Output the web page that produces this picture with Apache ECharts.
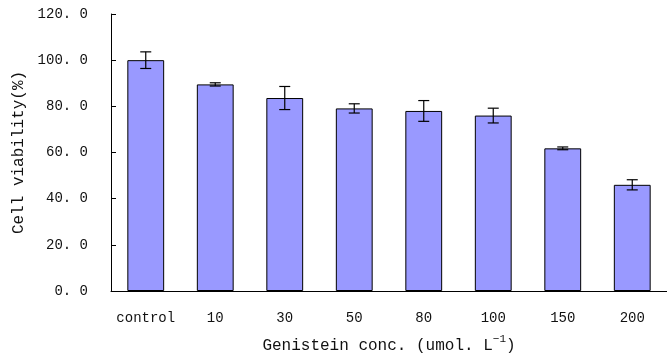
<!DOCTYPE html>
<html>
<head>
<meta charset="utf-8">
<script src="https://cdn.jsdelivr.net/npm/echarts@6/dist/echarts.min.js"></script>
<style>
  html, body { margin: 0; padding: 0; background: #fff; }
  #chart { width: 667px; height: 359px; }
</style>
</head>
<body>
<div id="chart"></div>
<script>
const categories = ['control', '10', '30', '50', '80', '100', '150', '200'];
const viability = [100.0, 89.5, 83.6, 79.1, 78.0, 76.0, 61.8, 46.0];
const errors = [3.6, 0.7, 5.0, 2.0, 4.5, 3.2, 0.6, 2.2];

const chartDom = document.getElementById('chart');
const myChart = echarts.init(chartDom);
const font = '"Liberation Mono", monospace';

const errData = viability.map((v, i) => [i, v - errors[i], v + errors[i]]);

const option = {
    animation: false,
    grid: { left: 111, right: 0, top: 14, bottom: 65 },
    xAxis: {
        type: 'category',
        data: categories,
        axisTick: { show: false },
        axisLine: { lineStyle: { color: '#000', width: 1 } },
        axisLabel: { interval: 0, color: '#111', fontFamily: font, fontSize: 14, margin: 20 },
        name: '{a|Genistein conc. (umol. L}{s|−1}{a|)}',
        nameLocation: 'middle',
        nameGap: 43,
        nameTextStyle: {
            rich: {
                a: { fontFamily: font, fontSize: 16, color: '#111', verticalAlign: 'bottom' },
                s: { fontFamily: font, fontSize: 11, color: '#111', verticalAlign: 'top', padding: [0, 0, 9, 0] }
            }
        }
    },
    yAxis: {
        type: 'value',
        min: 0,
        max: 120,
        interval: 20,
        splitLine: { show: false },
        axisLine: { show: true, lineStyle: { color: '#000', width: 1 } },
        axisTick: { show: true, inside: true, length: 5, lineStyle: { color: '#000' } },
        axisLabel: {
            color: '#111', fontFamily: font, fontSize: 14, margin: 23,
            formatter: v => v.toFixed(1).replace('.', '. ')
        },
        name: 'Cell viability(%)',
        nameLocation: 'middle',
        nameGap: 81,
        nameTextStyle: { fontFamily: font, fontSize: 16, color: '#111' }
    },
    series: [
        {
            type: 'bar',
            data: viability,
            barWidth: '53%',
            itemStyle: { color: '#9999FF', borderColor: '#000', borderWidth: 1 }
        },
        {
            type: 'custom',
            data: errData,
            z: 10,
            renderItem: function (params, api) {
                const x = api.value(0);
                const lo = api.coord([x, api.value(1)]);
                const hi = api.coord([x, api.value(2)]);
                const half = 5.5;
                const style = { stroke: '#000', lineWidth: 1.2 };
                return {
                    type: 'group',
                    children: [
                        { type: 'line', shape: { x1: lo[0], y1: lo[1], x2: hi[0], y2: hi[1] }, style },
                        { type: 'line', shape: { x1: hi[0] - half, y1: hi[1], x2: hi[0] + half, y2: hi[1] }, style },
                        { type: 'line', shape: { x1: lo[0] - half, y1: lo[1], x2: lo[0] + half, y2: lo[1] }, style }
                    ]
                };
            }
        }
    ]
};

myChart.setOption(option);
</script>
</body>
</html>
